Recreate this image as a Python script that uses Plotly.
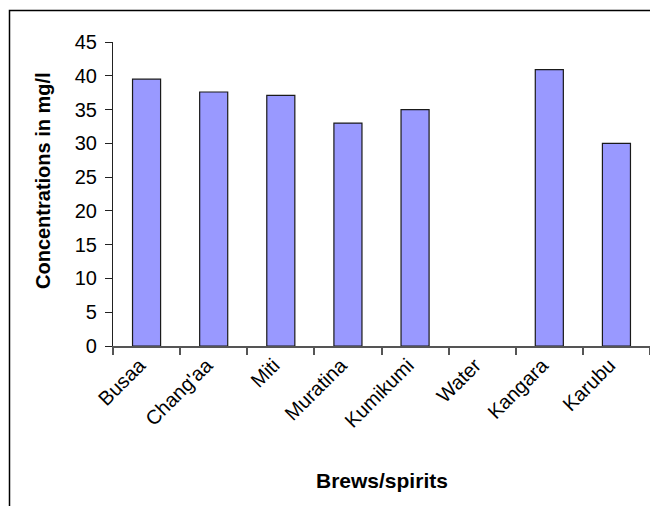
import plotly.graph_objects as go

# Concentration per sample (mg/l)
brews = ["Busaa", "Chang'aa", "Miti", "Muratina", "Kumikumi", "Water", "Kangara", "Karubu"]
concentration = [39.5, 37.6, 37.1, 33.0, 35.0, 0.0, 40.9, 30.0]
y_ticks = [0, 5, 10, 15, 20, 25, 30, 35, 40, 45]

W, H = 650, 506
L, R, T, B = 113, 0, 42, 160
pw, ph = W - L - R, H - T - B


def px_x(x):
    return (x - L) / pw


def px_y(y):
    return (H - B - y) / ph


FONT = "Liberation Sans, Arial, sans-serif"

# no outline on empty bars so a zero value leaves no mark
outline_widths = [1.2 if v > 0 else 0 for v in concentration]

fig = go.Figure(
    go.Bar(
        x=brews,
        y=concentration,
        width=0.418,
        marker=dict(color="#9999FF", line=dict(color="#1a1a1a", width=outline_widths)),
    )
)

fig.update_layout(
    width=W,
    height=H,
    margin=dict(l=L, r=R, t=T, b=B),
    paper_bgcolor="white",
    plot_bgcolor="white",
    showlegend=False,
    font=dict(family=FONT, size=20, color="black"),
    xaxis=dict(
        type="category",
        tickson="boundaries",
        ticks="outside",
        ticklen=7,
        tickwidth=1.5,
        tickcolor="#555",
        showline=True,
        linecolor="#555",
        linewidth=1.5,
        showgrid=False,
        tickangle=-45,
        ticklabelshift=-7,
        ticklabelstandoff=-2,
        tickfont=dict(size=20),
    ),
    yaxis=dict(
        range=[0, 45],
        tickvals=y_ticks,
        ticks="outside",
        ticklen=7,
        tickwidth=1.2,
        tickcolor="#222",
        showline=True,
        linecolor="#222",
        linewidth=1.2,
        showgrid=False,
        zeroline=False,
        ticklabelstandoff=4,
        tickfont=dict(size=20),
    ),
    shapes=[
        dict(
            type="rect",
            xref="paper",
            yref="paper",
            x0=px_x(9.5),
            x1=px_x(W + 20),
            y0=px_y(H + 20),
            y1=px_y(10.5),
            line=dict(color="black", width=1.5),
            fillcolor="rgba(0,0,0,0)",
            layer="below",
        )
    ],
    annotations=[
        dict(
            text="<b>Concentrations in mg/l</b>",
            xref="paper",
            yref="paper",
            x=px_x(43),
            y=px_y(181),
            textangle=-90,
            showarrow=False,
            font=dict(size=20),
            xanchor="center",
            yanchor="middle",
        ),
        dict(
            text="<b>Brews/spirits</b>",
            xref="paper",
            yref="paper",
            x=px_x(382),
            y=px_y(480),
            showarrow=False,
            font=dict(size=21),
            xanchor="center",
            yanchor="middle",
        ),
    ],
)

fig.write_html("out.html")
